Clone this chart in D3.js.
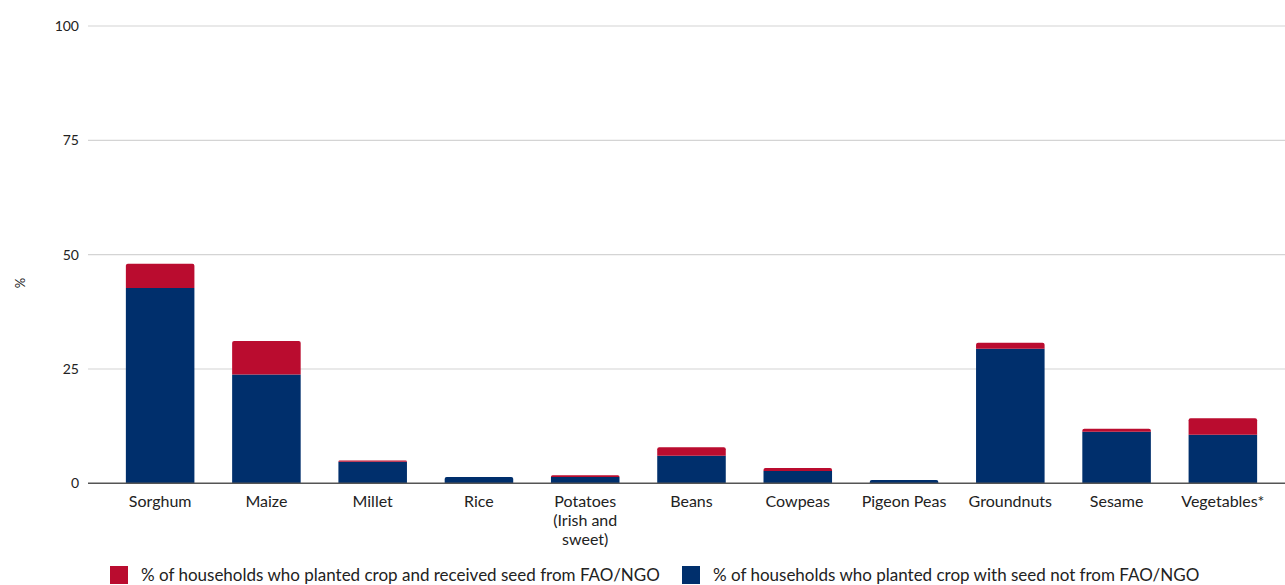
<!DOCTYPE html>
<html>
<head>
<meta charset="utf-8">
<script src="https://cdn.jsdelivr.net/npm/d3@7"></script>
<style>
  html, body { margin: 0; padding: 0; background: #fff; }
  svg { display: block; font-family: Lato, "Open Sans", sans-serif; }
</style>
</head>
<body>
<svg id="chart" width="1285" height="585"></svg>
<script>
// Crops surveyed (label lines for wrapped names)
const crops = ["Sorghum", "Maize", "Millet", "Rice", "Potatoes (Irish and sweet)",
  "Beans", "Cowpeas", "Pigeon Peas", "Groundnuts", "Sesame", "Vegetables*"];
const cropLines = [["Sorghum"], ["Maize"], ["Millet"], ["Rice"], ["Potatoes", "(Irish and", "sweet)"],
  ["Beans"], ["Cowpeas"], ["Pigeon Peas"], ["Groundnuts"], ["Sesame"], ["Vegetables*"]];

// % of households who planted crop with seed not from FAO/NGO
const notFromFao = [42.7, 23.8, 4.7, 1.4, 1.4, 6.0, 2.7, 0.7, 29.4, 11.3, 10.6];
// % of households who planted crop and received seed from FAO/NGO
const fromFao = [5.3, 7.3, 0.3, 0.0, 0.35, 1.9, 0.65, 0.0, 1.35, 0.65, 3.6];

const yTicks = [0, 25, 50, 75, 100];

const seriesNames = [
  "% of households who planted crop and received seed from FAO/NGO",
  "% of households who planted crop with seed not from FAO/NGO"
];
const RED = "#BA0C2F", BLUE = "#002F6C";

const svg = d3.select("#chart");

const x = d3.scaleBand().domain(crops).range([107, 1276]).paddingInner(0.355).paddingOuter(0.1775);
const y = d3.scaleLinear().domain([0, 100]).range([483.3, 26]);

// Gridlines
svg.append("g").selectAll("line").data(yTicks.filter(d => d > 0)).join("line")
  .attr("x1", 88).attr("x2", 1285)
  .attr("y1", d => y(d)).attr("y2", d => y(d))
  .attr("stroke", "#d4d4d4").attr("stroke-width", 1.2);

// Y tick labels
svg.append("g").selectAll("text").data(yTicks).join("text")
  .attr("x", 79).attr("y", d => y(d))
  .attr("dy", "0.35em").attr("text-anchor", "end")
  .attr("font-size", 14).attr("fill", "#222")
  .text(d => d);

// Y axis title
svg.append("text")
  .attr("transform", "translate(20,283) rotate(-90)")
  .attr("text-anchor", "middle").attr("dy", "0.35em")
  .attr("font-size", 13).attr("fill", "#222").text("%");

// Stacked bars
const rows = crops.map((c, i) => ({ crop: c, blue: notFromFao[i], red: fromFao[i] }));
const stacked = d3.stack().keys(["blue", "red"])(rows);
const colors = { blue: BLUE, red: RED };

function barPath(x0, w, yTop, yBot, r) {
  r = Math.min(r, (yBot - yTop), w / 2);
  if (r <= 0) return `M${x0},${yBot}V${yTop}H${x0 + w}V${yBot}Z`;
  return `M${x0},${yBot}V${yTop + r}Q${x0},${yTop} ${x0 + r},${yTop}H${x0 + w - r}Q${x0 + w},${yTop} ${x0 + w},${yTop + r}V${yBot}Z`;
}

stacked.forEach(layer => {
  svg.append("g").selectAll("path").data(layer).join("path")
    .attr("fill", colors[layer.key])
    .attr("d", (d, i) => {
      const h = d[1] - d[0];
      if (h <= 0) return null;
      const isTop = layer.key === "red" || fromFao[i] <= 0;
      return barPath(x(d.data.crop), x.bandwidth(), y(d[1]), y(d[0]), isTop ? 2 : 0);
    });
});

// Baseline
svg.append("line").attr("x1", 88).attr("x2", 1285)
  .attr("y1", y(0)).attr("y2", y(0))
  .attr("stroke", "#555").attr("stroke-width", 1.5);

// Category labels
const catG = svg.append("g");
crops.forEach((c, i) => {
  const t = catG.append("text")
    .attr("x", x(c) + x.bandwidth() / 2).attr("y", 507)
    .attr("text-anchor", "middle").attr("font-size", 16).attr("fill", "#222");
  cropLines[i].forEach((ln, j) => {
    t.append("tspan").attr("x", x(c) + x.bandwidth() / 2).attr("dy", j === 0 ? 0 : 19).text(ln);
  });
});

// Legend
const legend = [
  { name: seriesNames[0], color: RED, x: 110 },
  { name: seriesNames[1], color: BLUE, x: 682 }
];
const lg = svg.append("g").selectAll("g").data(legend).join("g")
  .attr("transform", d => `translate(${d.x},566)`);
lg.append("rect").attr("width", 18).attr("height", 18).attr("fill", d => d.color);
lg.append("text").attr("x", 31).attr("y", 9).attr("dy", "0.35em")
  .attr("font-size", 17).attr("fill", "#222").text(d => d.name);
</script>
</body>
</html>
